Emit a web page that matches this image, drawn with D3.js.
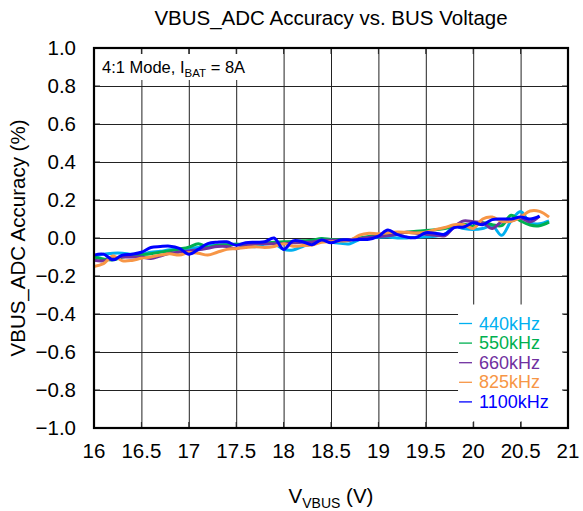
<!DOCTYPE html>
<html>
<head>
<meta charset="utf-8">
<script src="https://cdn.jsdelivr.net/npm/d3@7"></script>
<style>
  body { margin: 0; background: #fff; }
  svg { font-family: "Liberation Sans", Arial, sans-serif; }
</style>
</head>
<body>
<div id="chart"></div>
<script>
// VBUS_ADC accuracy vs. bus voltage, one series per switching frequency
const VOLTAGE = [
  16.0, 16.1, 16.2, 16.3, 16.4, 16.5, 16.6, 16.7, 16.8, 16.9,
  17.0, 17.1, 17.2, 17.3, 17.4, 17.5, 17.6, 17.7, 17.8, 17.9,
  18.0, 18.1, 18.2, 18.3, 18.4, 18.5, 18.6, 18.7, 18.8, 18.9,
  19.0, 19.1, 19.2, 19.3, 19.4, 19.5, 19.6, 19.7, 19.8, 19.9,
  20.0, 20.1, 20.2, 20.3, 20.4, 20.5, 20.6, 20.7, 20.8,
];

const ACC_440 = [
  -0.1, -0.085, -0.08, -0.08, -0.086, -0.085, -0.075, -0.07, -0.062, -0.06,
  -0.056, -0.05, -0.042, -0.038, -0.035, -0.033, -0.04, -0.046, -0.032, -0.03,
  -0.06, -0.063, -0.045, -0.03, -0.005, -0.021, -0.028, -0.03, -0.008, 0.0,
  0.004, 0.005, 0.0, 0.0, 0.004, 0.006, 0.009, 0.02, 0.06, 0.05,
  0.045, 0.05, 0.065, 0.014, 0.09, 0.14, 0.08, 0.075, 0.09,
];
const ACC_550 = [
  -0.1, -0.11, -0.115, -0.1, -0.092, -0.088, -0.083, -0.075, -0.067, -0.058,
  -0.048, -0.03, -0.048, -0.038, -0.035, -0.033, -0.032, -0.03, -0.026, -0.022,
  -0.02, -0.018, -0.015, -0.012, -0.003, -0.008, -0.009, -0.009, 0.0, 0.008,
  0.015, 0.02, 0.025, 0.03, 0.036, 0.04, 0.043, 0.05, 0.06, 0.073,
  0.062, 0.08, 0.07, 0.065, 0.12, 0.09, 0.068, 0.065, 0.084,
];
const ACC_660 = [
  -0.117, -0.12, -0.105, -0.1, -0.1, -0.1, -0.108, -0.095, -0.08, -0.074,
  -0.068, -0.062, -0.054, -0.045, -0.045, -0.056, -0.04, -0.03, -0.03, -0.03,
  -0.03, -0.025, -0.023, -0.021, -0.012, -0.012, -0.012, -0.008, -0.004, 0.003,
  0.008, 0.012, 0.02, 0.03, 0.025, 0.02, 0.015, 0.012, 0.06, 0.09,
  0.085, 0.08, 0.05, 0.085, 0.09, 0.105, 0.085, 0.115, null,
];
const ACC_825 = [
  -0.15, -0.135, -0.095, -0.12, -0.118, -0.107, -0.1, -0.09, -0.083, -0.09,
  -0.076, -0.08, -0.09, -0.075, -0.06, -0.056, -0.05, -0.046, -0.05, -0.045,
  -0.03, -0.043, -0.04, -0.037, -0.022, -0.02, -0.016, -0.012, 0.015, 0.025,
  0.022, 0.028, 0.032, 0.03, 0.026, 0.03, 0.044, 0.055, 0.07, 0.07,
  0.05, 0.1, 0.11, 0.088, 0.088, 0.11, 0.142, 0.14, 0.11,
];
const ACC_1100 = [
  -0.09, -0.085, -0.115, -0.09, -0.085, -0.075, -0.05, -0.045, -0.043, -0.055,
  -0.085, -0.06, -0.03, -0.022, -0.02, -0.038, -0.025, -0.022, -0.02, 0.0,
  -0.06, -0.015, -0.02, -0.035, -0.01, -0.025, -0.01, -0.01, -0.008, -0.007,
  0.01, 0.042, 0.018, 0.005, 0.003, 0.028, 0.025, 0.02, 0.055, 0.058,
  0.08, 0.07, 0.097, 0.1, 0.1, 0.11, 0.1, 0.115, null,
];

const SERIES_NAMES = ["440kHz", "550kHz", "660kHz", "825kHz", "1100kHz"];
const SERIES_VALUES = [ACC_440, ACC_550, ACC_660, ACC_825, ACC_1100];
const SERIES_COLORS = ["#00b0f0", "#00b050", "#7030a0", "#f79646", "#0000ff"];

const X_TICKS = [16, 16.5, 17, 17.5, 18, 18.5, 19, 19.5, 20, 20.5, 21];
const Y_TICKS = [-1.0, -0.8, -0.6, -0.4, -0.2, 0.0, 0.2, 0.4, 0.6, 0.8, 1.0];

const WIDTH = 583;
const HEIGHT = 511;
const margin = { top: 48, right: 15, bottom: 83, left: 94 };
const innerW = WIDTH - margin.left - margin.right;
const innerH = HEIGHT - margin.top - margin.bottom;
const FONT = "20.5px";

const svg = d3
  .select("#chart")
  .append("svg")
  .attr("width", WIDTH)
  .attr("height", HEIGHT);

const g = svg
  .append("g")
  .attr("transform", `translate(${margin.left},${margin.top})`);

const x = d3.scaleLinear().domain([16, 21]).range([0, innerW]);
const y = d3.scaleLinear().domain([-1, 1]).range([innerH, 0]);

// Gridlines
g.append("g")
  .attr("class", "grid-x")
  .attr("transform", `translate(0,${innerH})`)
  .call(d3.axisBottom(x).tickValues(X_TICKS).tickSize(-innerH).tickFormat(""))
  .call((a) => a.select(".domain").remove())
  .call((a) => a.selectAll("line").attr("stroke", "#222").attr("stroke-width", 1));

g.append("g")
  .attr("class", "grid-y")
  .call(d3.axisLeft(y).tickValues(Y_TICKS).tickSize(-innerW).tickFormat(""))
  .call((a) => a.select(".domain").remove())
  .call((a) => a.selectAll("line").attr("stroke", "#222").attr("stroke-width", 1));

// Series
const line = d3
  .line()
  .defined((d) => d[1] !== null)
  .x((d) => x(d[0]))
  .y((d) => y(d[1]))
  .curve(d3.curveCatmullRom.alpha(0.5));

SERIES_VALUES.forEach((vals, i) => {
  g.append("path")
    .datum(VOLTAGE.map((v, j) => [v, vals[j]]))
    .attr("fill", "none")
    .attr("stroke", SERIES_COLORS[i])
    .attr("stroke-width", 3)
    .attr("stroke-linejoin", "round")
    .attr("d", line);
});

// Annotation box (hides gridlines behind it)
g.append("rect")
  .attr("x", 3)
  .attr("y", 6)
  .attr("width", 165)
  .attr("height", 26)
  .attr("fill", "#fff");

const note = g
  .append("text")
  .attr("x", 8)
  .attr("y", 25)
  .attr("fill", "#000")
  .style("font-size", "16.5px");
note.append("tspan").text("4:1 Mode, I");
note.append("tspan").attr("dy", 4).style("font-size", "11.5px").text("BAT");
note.append("tspan").attr("dy", -4).text(" = 8A");

// Legend box
const legendX = x(19.84);
const legendY = y(-0.35);
g.append("rect")
  .attr("x", legendX)
  .attr("y", legendY)
  .attr("width", x(20.95) - legendX)
  .attr("height", y(-0.965) - legendY)
  .attr("fill", "#fff");

const legend = g
  .append("g")
  .attr("class", "legend")
  .attr("transform", `translate(${legendX + 1}, ${legendY + 19})`);

SERIES_NAMES.forEach((name, i) => {
  const item = legend.append("g").attr("transform", `translate(0, ${i * 19.6})`);
  item
    .append("line")
    .attr("x1", 0)
    .attr("x2", 13)
    .attr("y1", 0)
    .attr("y2", 0)
    .attr("stroke", SERIES_COLORS[i])
    .attr("stroke-width", 1.3);
  item
    .append("text")
    .attr("x", 20)
    .attr("y", 6)
    .attr("fill", SERIES_COLORS[i])
    .style("font-size", "18px")
    .text(name);
});

// Inward tick marks on all four sides
const TICK = 6;
const ticks = g.append("g").attr("stroke", "#222").attr("stroke-width", 1);
X_TICKS.forEach((t) => {
  ticks.append("line").attr("x1", x(t)).attr("x2", x(t)).attr("y1", innerH).attr("y2", innerH - TICK);
  ticks.append("line").attr("x1", x(t)).attr("x2", x(t)).attr("y1", 0).attr("y2", TICK);
});
Y_TICKS.forEach((t) => {
  ticks.append("line").attr("y1", y(t)).attr("y2", y(t)).attr("x1", 0).attr("x2", TICK);
  ticks.append("line").attr("y1", y(t)).attr("y2", y(t)).attr("x1", innerW).attr("x2", innerW - TICK);
});

// Plot border
g.append("rect")
  .attr("width", innerW)
  .attr("height", innerH)
  .attr("fill", "none")
  .attr("stroke", "#000")
  .attr("stroke-width", 2.2);

// Tick labels
g.append("g")
  .selectAll("text")
  .data(X_TICKS)
  .enter()
  .append("text")
  .attr("x", (d) => x(d))
  .attr("y", innerH + 30)
  .attr("text-anchor", "middle")
  .style("font-size", FONT)
  .text((d) => d);

g.append("g")
  .selectAll("text")
  .data(Y_TICKS)
  .enter()
  .append("text")
  .attr("x", -18)
  .attr("y", (d) => y(d) + 7)
  .attr("text-anchor", "end")
  .style("font-size", FONT)
  .text((d) => d3.format(".1f")(d));

// Title and axis titles
svg
  .append("text")
  .attr("x", margin.left + innerW / 2)
  .attr("y", 25)
  .attr("text-anchor", "middle")
  .style("font-size", FONT)
  .text("VBUS_ADC Accuracy vs. BUS Voltage");

svg
  .append("text")
  .attr("transform", "rotate(-90)")
  .attr("x", -(margin.top + innerH / 2))
  .attr("y", 25)
  .attr("text-anchor", "middle")
  .style("font-size", FONT)
  .text("VBUS_ADC Accuracy (%)");

const xTitle = svg
  .append("text")
  .attr("x", margin.left + innerW / 2)
  .attr("y", 503)
  .attr("text-anchor", "middle")
  .style("font-size", FONT);
xTitle.append("tspan").text("V");
xTitle.append("tspan").attr("dy", 5).style("font-size", "14px").text("VBUS");
xTitle.append("tspan").attr("dy", -5).text(" (V)");
</script>
</body>
</html>
